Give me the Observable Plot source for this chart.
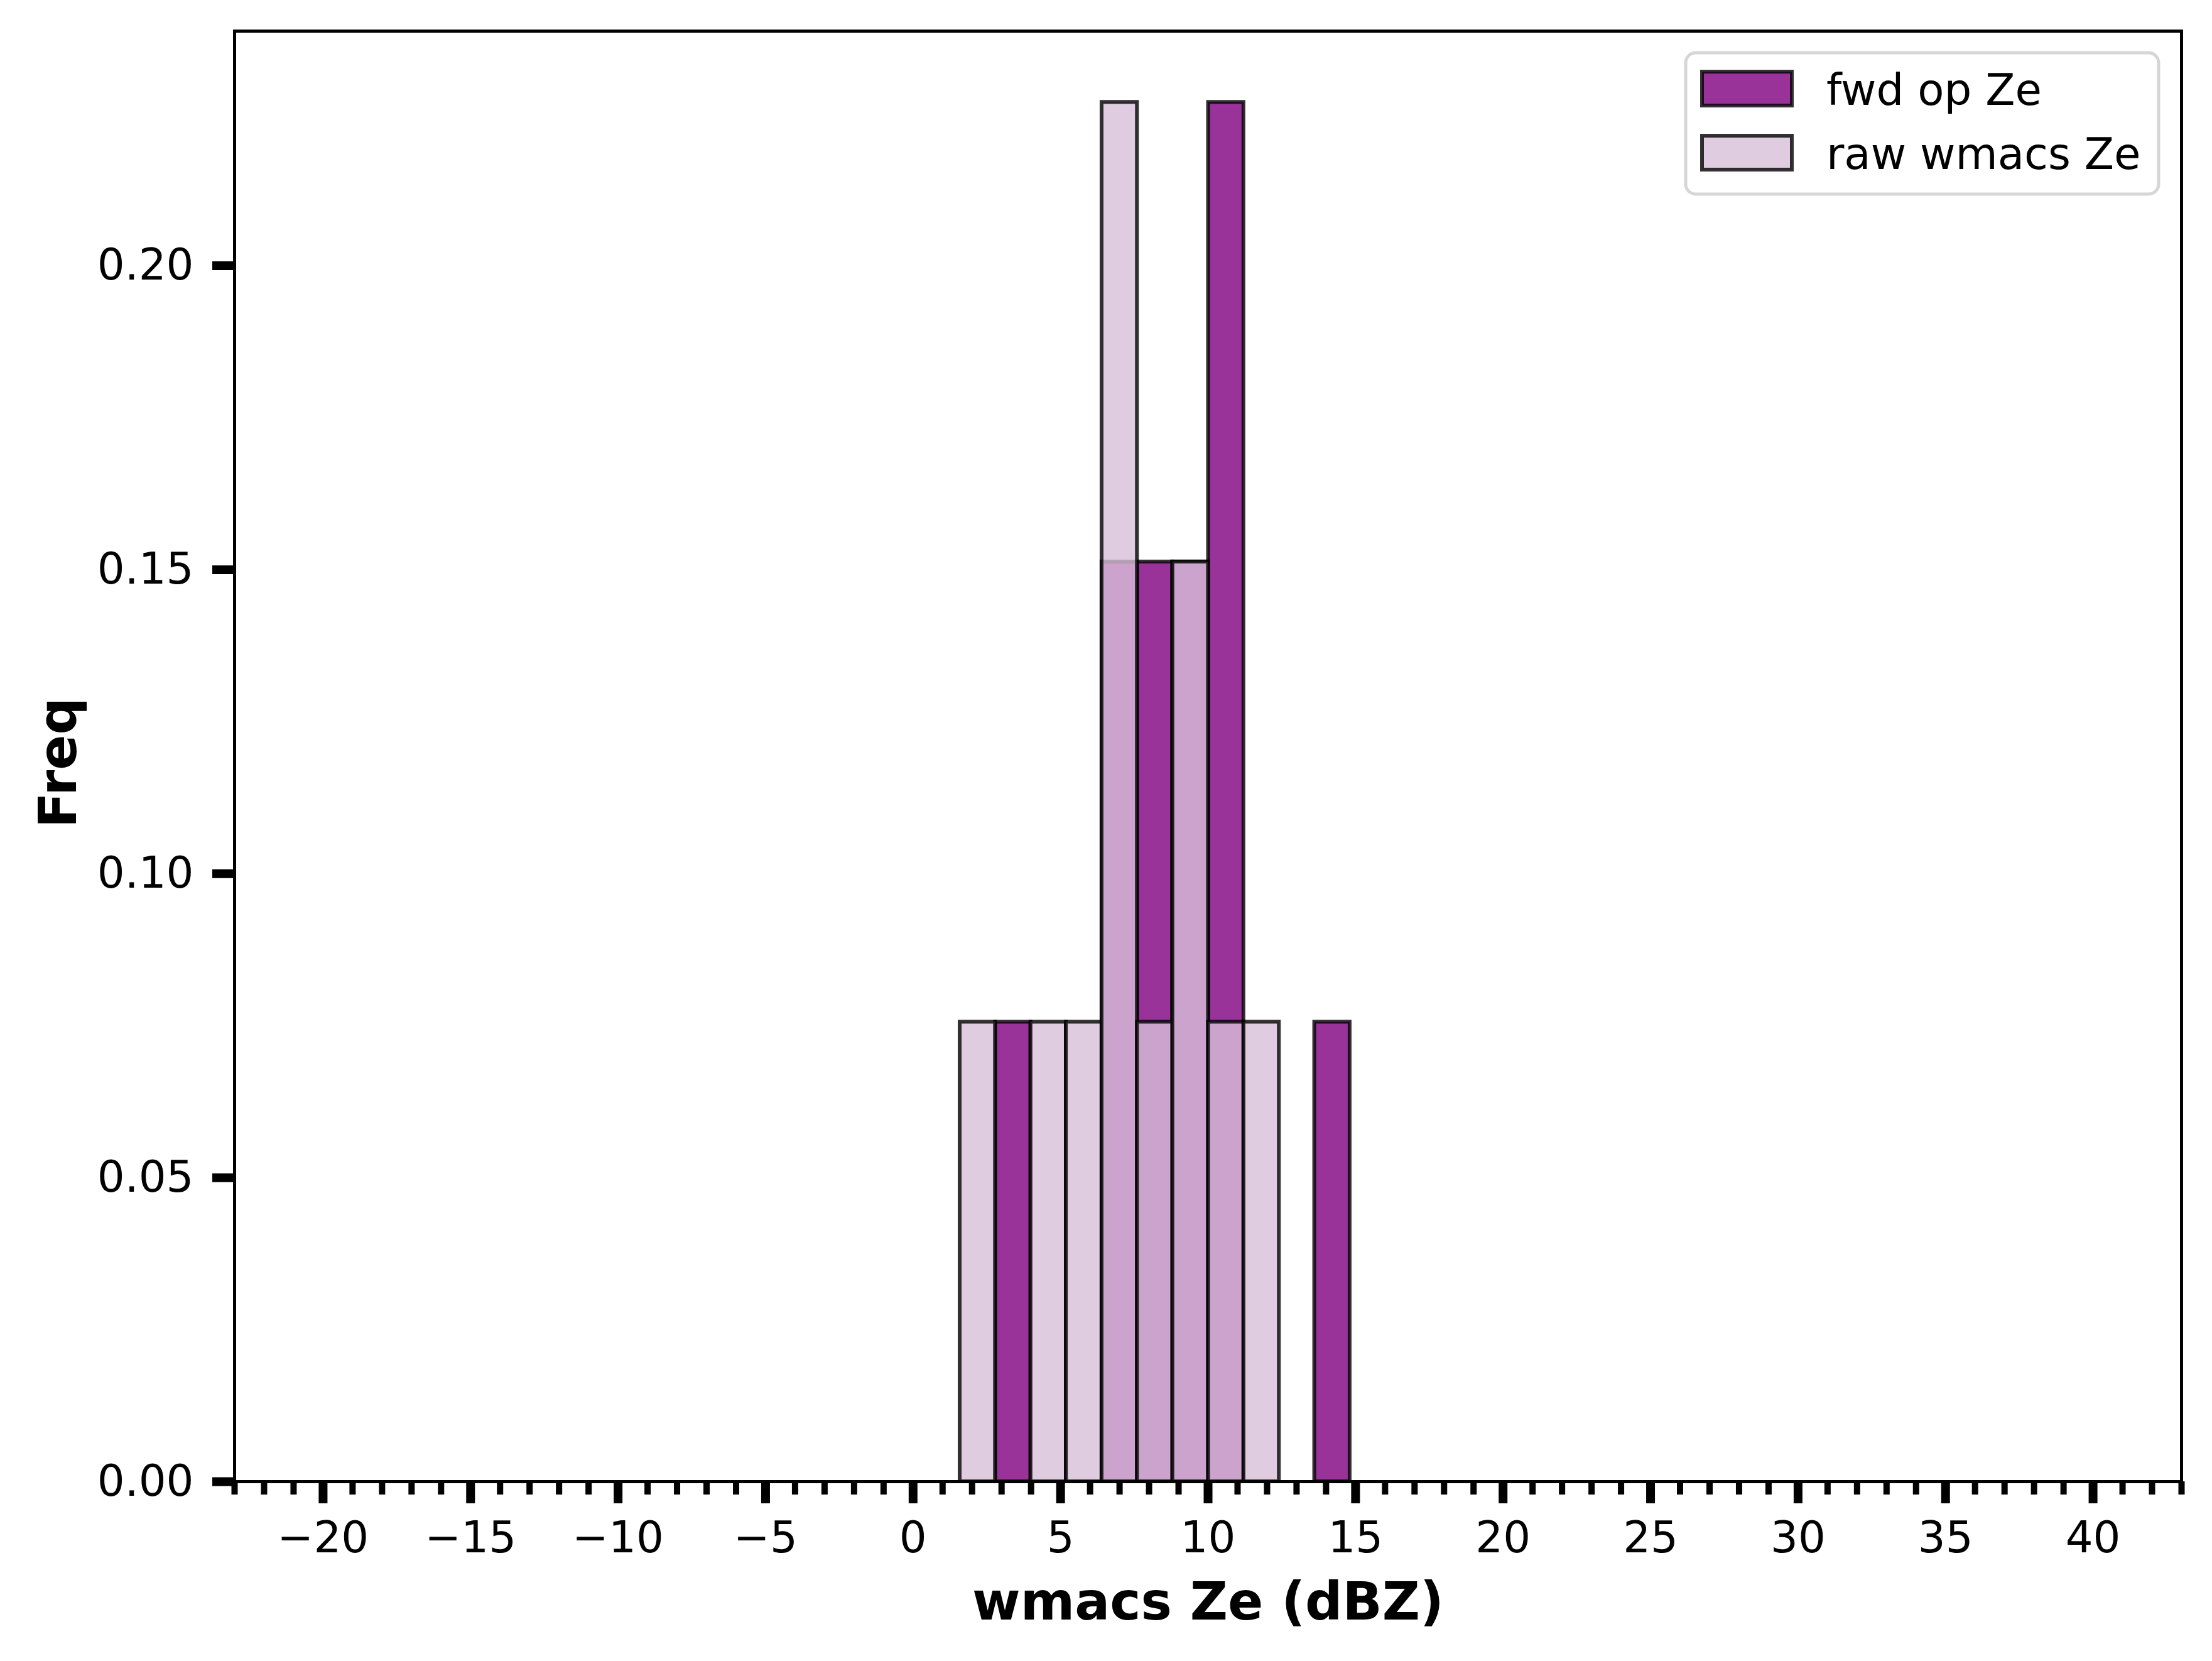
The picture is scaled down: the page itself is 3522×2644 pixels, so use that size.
<!DOCTYPE html>
<html>
<head>
<meta charset="utf-8">
<script src="https://cdn.jsdelivr.net/npm/d3@7"></script>
<script src="https://cdn.jsdelivr.net/npm/@observablehq/plot@0.6"></script>
<style>
  html, body { margin: 0; padding: 0; background: white; }
  svg { display: block; }
</style>
</head>
<body>
<div id="chart"></div>
<script>
// Histogram bin edges (dBZ) shared by both series
const binEdges = [1.59, 2.79, 3.99, 5.19, 6.40, 7.60, 8.80, 10.01, 11.21, 12.41, 13.61, 14.81];
// Density-normalised frequencies per bin
const fwdFreq = [0, 0.0756, 0, 0, 0.1513, 0.1513, 0.1513, 0.2269, 0, 0, 0.0756];
const rawFreq = [0.0756, 0, 0.0756, 0.0756, 0.2269, 0.0756, 0.1513, 0.0756, 0.0756, 0, 0];
const seriesNames = ["fwd op Ze", "raw wmacs Ze"];
const seriesFill = ["purple", "thistle"];
const xMajorTicks = [-20, -15, -10, -5, 0, 5, 10, 15, 20, 25, 30, 35, 40];
const xMinorTicks = d3.range(-23, 44).filter(v => v % 5 !== 0);
const yTicks = [0, 0.05, 0.10, 0.15, 0.20];
const xLabel = "wmacs Ze (dBZ)";
const yLabel = "Freq";

const toBars = freq => freq
  .map((y, i) => ({x1: binEdges[i], x2: binEdges[i + 1], y}))
  .filter(d => d.y > 0);

const fmtX = d => d < 0 ? "\u2212" + Math.abs(d) : String(d);

const barStyle = {x1: "x1", x2: "x2", y: "y", fillOpacity: 0.8, stroke: "black",
  strokeOpacity: 0.8, strokeWidth: 6, inset: 0};

const chart = Plot.plot({
  width: 3522,
  height: 2644,
  marginLeft: 373,
  marginRight: 49,
  marginTop: 49,
  marginBottom: 286,
  x: {domain: [-23, 43]},
  y: {domain: [0, 0.2386]},
  style: {fontFamily: "DejaVu Sans", background: "white", color: "black"},
  marks: [
    Plot.rectY(toBars(fwdFreq), {...barStyle, fill: seriesFill[0]}),
    Plot.rectY(toBars(rawFreq), {...barStyle, fill: seriesFill[1]}),
    Plot.frame({stroke: "black", strokeWidth: 5}),
    Plot.axisX({ticks: xMinorTicks, tickSize: 21, strokeWidth: 10, tickFormat: () => "", label: null}),
    Plot.axisX({ticks: xMajorTicks, tickSize: 35, strokeWidth: 14, tickPadding: 28,
      fontSize: 69, tickFormat: fmtX, label: null}),
    Plot.axisY({ticks: yTicks, tickSize: 35, strokeWidth: 14, tickPadding: 30,
      fontSize: 69, tickFormat: d3.format(".2f"), label: null}),
    Plot.text([xLabel], {text: d => d, frameAnchor: "bottom", dy: 193, fontSize: 83,
      fontWeight: "bold", lineAnchor: "middle", textAnchor: "middle"}),
    Plot.text([yLabel], {text: d => d, frameAnchor: "left", dx: -279, dy: 10, rotate: -90, fontSize: 83,
      fontWeight: "bold", lineAnchor: "middle", textAnchor: "middle"})
  ]
});

// Legend (upper right, inside the axes)
const svg = d3.select(chart);
const lg = svg.append("g").attr("font-family", "DejaVu Sans").attr("text-anchor", "start");
lg.append("rect")
  .attr("x", 2684).attr("y", 84).attr("width", 753).attr("height", 225)
  .attr("rx", 16).attr("ry", 16)
  .attr("fill", "white").attr("fill-opacity", 0.8)
  .attr("stroke", "#d6d6d6").attr("stroke-width", 5);
seriesNames.forEach((name, i) => {
  const top = 114 + i * 102;
  lg.append("rect")
    .attr("x", 2710).attr("y", top).attr("width", 143).attr("height", 54)
    .attr("fill", seriesFill[i]).attr("fill-opacity", 0.8)
    .attr("stroke", "black").attr("stroke-opacity", 0.8).attr("stroke-width", 6);
  lg.append("text")
    .attr("x", 2908).attr("y", top + 53)
    .attr("text-anchor", "start")
    .attr("font-size", 69).attr("fill", "black")
    .text(name);
});

document.getElementById("chart").appendChild(chart);
</script>
</body>
</html>
